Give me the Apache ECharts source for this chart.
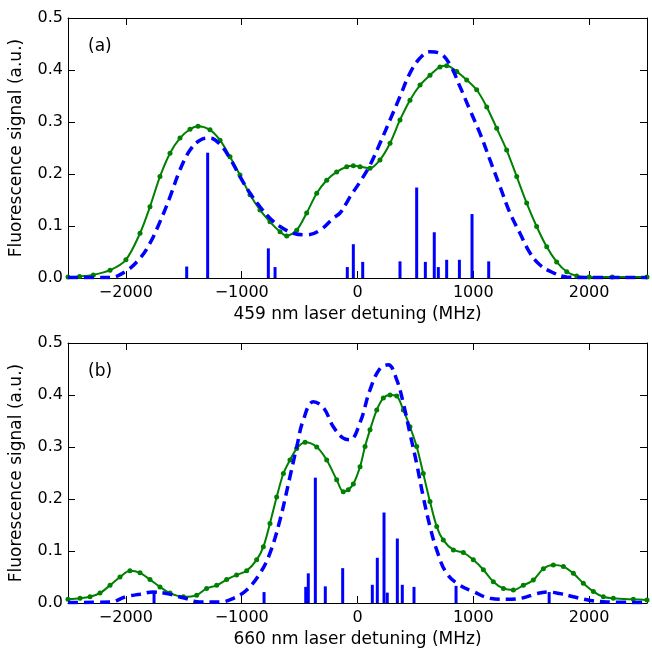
<!DOCTYPE html>
<html>
<head>
<meta charset="utf-8">
<script src="https://cdn.jsdelivr.net/npm/echarts@6/dist/echarts.min.js"></script>
<style>
html,body{margin:0;padding:0;background:#fff;}
#chart{width:652px;height:652px;}
</style>
</head>
<body>
<div id="chart"></div>
<script>
// ---- Panel (a): 459 nm ----
const aExpX = [-2500,-2400,-2281,-2137,-2000,-1878,-1792,-1706,-1619,-1533,-1446,-1377,-1274,-1187,-1101,-1015,-928,-842,-756,-669,-611,-525,-439,-352,-266,-180,-93,-36,22,108,194,281,367,453,540,626,712,770,857,943,1029,1116,1202,1288,1375,1461,1547,1634,1720,1807,1893,2000,2200,2500];
const aExpY = [0.002,0.003,0.006,0.015,0.035,0.086,0.137,0.195,0.24,0.269,0.286,0.292,0.285,0.265,0.233,0.198,0.16,0.131,0.108,0.089,0.081,0.092,0.125,0.163,0.188,0.204,0.214,0.216,0.214,0.211,0.227,0.259,0.304,0.342,0.371,0.39,0.406,0.408,0.397,0.381,0.362,0.329,0.288,0.246,0.195,0.144,0.099,0.06,0.031,0.012,0.004,0.002,0.002,0.002];
const aModX = [-2500,-2137,-2000,-1878,-1792,-1706,-1619,-1533,-1446,-1360,-1274,-1187,-1101,-1015,-928,-842,-756,-669,-554,-439,-324,-209,-151,-93,-65,22,108,194,281,367,453,540,626,712,799,885,971,1058,1144,1230,1317,1403,1490,1576,1691,1807,2000,2500];
const aModY = [0.001,0.001,0.013,0.038,0.067,0.108,0.156,0.208,0.246,0.265,0.269,0.257,0.23,0.195,0.163,0.137,0.115,0.099,0.086,0.083,0.092,0.115,0.125,0.145,0.156,0.185,0.217,0.259,0.304,0.349,0.394,0.423,0.435,0.432,0.41,0.368,0.323,0.278,0.227,0.176,0.125,0.086,0.048,0.025,0.01,0.002,0.001,0.001];
const aStickX = [-1475,-1294,-770,-712,-88,-36,45,367,511,586,663,698,770,880,989,1133];
const aStickY = [0.022,0.241,0.057,0.021,0.021,0.065,0.031,0.032,0.174,0.031,0.088,0.021,0.035,0.035,0.123,0.032];

// ---- Panel (b): 660 nm ----
const bExpX = [-2500,-2396,-2310,-2224,-2137,-2051,-1965,-1878,-1792,-1706,-1619,-1504,-1389,-1303,-1216,-1130,-1044,-957,-871,-813,-756,-698,-640,-583,-525,-453,-352,-266,-180,-123,-80,-36,22,65,108,166,223,281,339,396,453,511,568,626,684,741,828,914,1000,1087,1173,1260,1346,1432,1518,1605,1691,1778,1864,1950,2037,2123,2209,2382,2500];
const bExpY = [0.007,0.009,0.012,0.019,0.034,0.05,0.062,0.058,0.045,0.031,0.019,0.012,0.015,0.028,0.034,0.045,0.054,0.062,0.083,0.108,0.153,0.204,0.249,0.275,0.297,0.309,0.3,0.275,0.237,0.214,0.218,0.229,0.262,0.301,0.333,0.371,0.394,0.4,0.398,0.371,0.339,0.301,0.249,0.195,0.147,0.121,0.102,0.097,0.083,0.064,0.041,0.028,0.025,0.034,0.044,0.066,0.073,0.07,0.057,0.038,0.022,0.012,0.009,0.007,0.006];
const bModX = [-2500,-2137,-2000,-1878,-1763,-1648,-1504,-1360,-1187,-1072,-957,-842,-756,-669,-583,-525,-468,-381,-295,-209,-123,-65,22,108,194,266,339,396,453,511,568,626,684,770,885,1000,1144,1288,1432,1547,1648,1749,1864,2008,2152,2500];
const bModY = [0.001,0.002,0.012,0.017,0.021,0.018,0.01,0.002,0.002,0.009,0.025,0.057,0.096,0.16,0.243,0.3,0.352,0.387,0.376,0.339,0.317,0.314,0.347,0.41,0.451,0.458,0.429,0.384,0.326,0.268,0.204,0.147,0.102,0.057,0.034,0.022,0.009,0.007,0.01,0.018,0.021,0.018,0.012,0.005,0.002,0.001];
const bStickX = [-1757,-807,-447,-425,-364,-278,-128,128,171,229,257,344,387,488,851,1655];
const bStickY = [0.021,0.021,0.031,0.057,0.241,0.032,0.067,0.035,0.087,0.174,0.02,0.124,0.035,0.031,0.033,0.021];

const xTicks = [-2000,-1000,0,1000,2000];
const yTicks = [0.0,0.1,0.2,0.3,0.4,0.5];
const xNames = ['459 nm laser detuning (MHz)','660 nm laser detuning (MHz)'];
const yName = 'Fluorescence signal (a.u.)';
const panelLabels = ['(a)','(b)'];

const FONT = '"DejaVu Sans", sans-serif';
const zip = (xs, ys) => xs.map((x, i) => [x, ys[i]]);

const chart = echarts.init(document.getElementById('chart'), null, {renderer:'canvas'});

const grids = [
  {left:68, top:18, width:579, height:260},
  {left:68, top:343, width:579, height:260}
];
const xAxes = [], yAxes = [], series = [], graphics = [];
const axisLine = {show:true, onZero:false, lineStyle:{color:'#000', width:1}};
const tick = {show:true, inside:true, length:7, lineStyle:{color:'#000', width:1}};

[0,1].forEach(g => {
  xAxes.push({
    type:'value', gridIndex:g, position:'bottom', min:-2500, max:2500,
    axisLine, axisTick:{...tick, customValues:xTicks},
    axisLabel:{color:'#000', fontFamily:FONT, fontSize:16, margin:7, customValues:xTicks,
      formatter: v => String(v).replace('-', '\u2212')},
    splitLine:{show:false},
    name:xNames[g], nameLocation:'middle', nameGap:28,
    nameTextStyle:{color:'#000', fontFamily:FONT, fontSize:17}
  });
  xAxes.push({
    type:'value', gridIndex:g, position:'top', min:-2500, max:2500,
    axisLine, axisTick:{...tick, customValues:xTicks}, axisLabel:{show:false}, splitLine:{show:false}
  });
  yAxes.push({
    type:'value', gridIndex:g, position:'left', min:0, max:0.5,
    axisLine, axisTick:{...tick, customValues:yTicks},
    axisLabel:{color:'#000', fontFamily:FONT, fontSize:16, margin:5, customValues:yTicks,
      formatter: v => v.toFixed(1)},
    splitLine:{show:false},
    name:yName, nameLocation:'middle', nameGap:43,
    nameTextStyle:{color:'#000', fontFamily:FONT, fontSize:17}
  });
  yAxes.push({
    type:'value', gridIndex:g, position:'right', min:0, max:0.5,
    axisLine, axisTick:{...tick, customValues:yTicks}, axisLabel:{show:false}, splitLine:{show:false}
  });
});

const panels = [
  {exp:zip(aExpX,aExpY), mod:zip(aModX,aModY), st:zip(aStickX,aStickY)},
  {exp:zip(bExpX,bExpY), mod:zip(bModX,bModY), st:zip(bStickX,bStickY)}
];
panels.forEach((p, g) => {
  series.push({
    type:'bar', xAxisIndex:2*g, yAxisIndex:2*g, data:p.st, barWidth:3,
    itemStyle:{color:'#0000ff'}, z:2, silent:true, animation:false
  });
  series.push({
    type:'line', xAxisIndex:2*g, yAxisIndex:2*g, data:p.exp, smooth:0.3,
    symbol:'circle', symbolSize:5, showSymbol:true,
    lineStyle:{color:'#008000', width:2}, itemStyle:{color:'#008000'}, z:3, animation:false
  });
  series.push({
    type:'line', xAxisIndex:2*g, yAxisIndex:2*g, data:p.mod, smooth:0.4,
    symbol:'none', lineStyle:{color:'#0000ff', width:3.5, type:[10,6]}, z:4, animation:false
  });
  graphics.push({
    type:'text', left:88, top:grids[g].top + 20,
    style:{text:panelLabels[g], font:'17px ' + FONT, fill:'#000'}
  });
});

chart.setOption({
  backgroundColor:'#fff',
  animation:false,
  grid:grids,
  xAxis:xAxes,
  yAxis:yAxes,
  series,
  graphic:graphics
});
</script>
</body>
</html>
